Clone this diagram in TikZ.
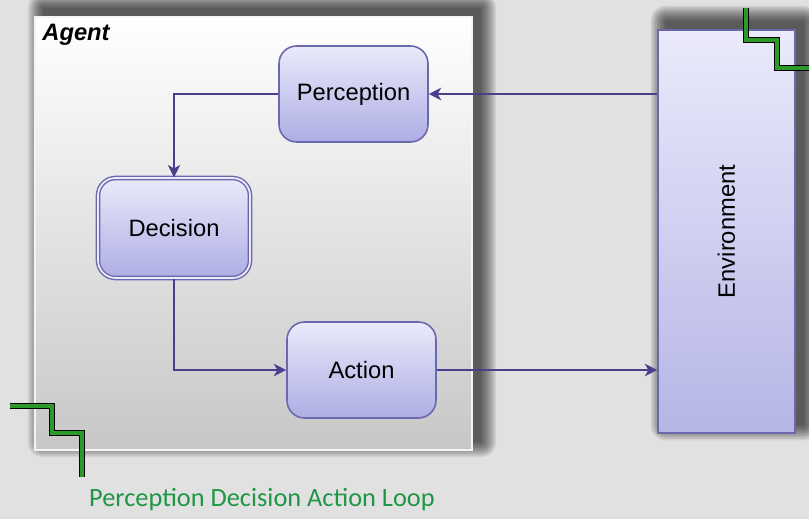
\documentclass[tikz,border=0pt]{standalone}
\usepackage{fontspec}
\usepackage{graphicx}
\setmainfont{Liberation Sans}
\newfontfamily\loopfont{Carlito}
\usetikzlibrary{positioning,backgrounds,arrows.meta}

\definecolor{bggray}{HTML}{E1E1E1}
\definecolor{linkpurple}{HTML}{4A3E8E}
\definecolor{boxline}{HTML}{6C68AC}
\definecolor{boxtop}{HTML}{EAEAFB}
\definecolor{boxbottom}{HTML}{ADADE4}
\definecolor{stairgreen}{HTML}{2B9A2B}
\definecolor{loopgreen}{HTML}{1E9646}

\begin{document}
\begin{tikzpicture}[
    box/.style={rectangle,rounded corners=10pt,draw=boxline,line width=0.9pt,
        top color=boxtop,bottom color=boxbottom,
        minimum width=2.98cm,minimum height=1.92cm,
        font=\fontsize{13.5}{15}\selectfont},
    link/.style={draw=linkpurple,line width=1.5pt,-{Stealth[length=7pt,width=7pt,inset=2pt]}},
    stair/.style={draw=black,line width=0.8pt,double=stairgreen,double distance=1.8pt},
    shade/.style={fill=black,opacity=0.075}]
    \useasboundingbox (0,0) rectangle (16.18,10.38);

    % agent panel
    \node[rectangle,inner sep=0,minimum width=8.74cm,minimum height=8.66cm,
        draw=white!92!gray,line width=0.7pt,top color=white,bottom color=gray!44] (agent) at (5.07,5.71) {};
    \node[font=\fontsize{13.5}{15}\selectfont\bfseries\itshape,inner sep=0] (agentlabel) at (1.52,9.68) {Agent};

    \node[box] (perc) at (7.07,8.50) {Perception};
    \node[box,minimum width=3.04cm,minimum height=2cm,line width=0.8pt,double=boxtop,double distance=1pt] (dec) at (3.48,5.82) {Decision};
    \node[box] (act) at (7.23,2.98) {Action};

    \node[rectangle,draw=boxline,line width=0.9pt,top color=boxtop,bottom color=boxbottom!90,
        minimum width=2.74cm,minimum height=8.06cm,
        font=\fontsize{13.5}{15}\selectfont] (env) at (14.53,5.75) {\rotatebox{90}{Environment}};

    \draw[link] (env.west |- perc.east) -- (perc.east);
    \draw[link] (perc.west) -| (dec.north);
    \draw[link] (dec.south) |- (act.west);
    \draw[link] (act.east) -- (act.east -| env.west);

    % green steps
    \draw[stair] (0.20,2.26) -- (1.04,2.26) -- (1.04,1.72) -- (1.64,1.72) -- (1.64,0.84);
    \draw[stair] (14.92,10.22) -- (14.92,9.58) -- (15.54,9.58) -- (15.54,9.02) -- (16.3,9.02);

    \node[text=loopgreen,font=\loopfont\fontsize{15}{17}\selectfont,inner sep=0] (caption) at (5.24,0.38) {Perception Decision Action Loop};

    % backdrop and soft shadows
    \begin{scope}[on background layer]
        \fill[bggray] (0,0) rectangle (16.18,10.38);
        \foreach \n in {agent,env}
            \foreach \r in {0,0.03,...,0.3}
                \fill[shade,rounded corners=\r cm]
                    ([shift={(0.17cm-\r cm,0.17cm-\r cm)}]\n.south west)
                    rectangle ([shift={(0.17cm+\r cm,0.17cm+\r cm)}]\n.north east);
    \end{scope}
\end{tikzpicture}
\end{document}
